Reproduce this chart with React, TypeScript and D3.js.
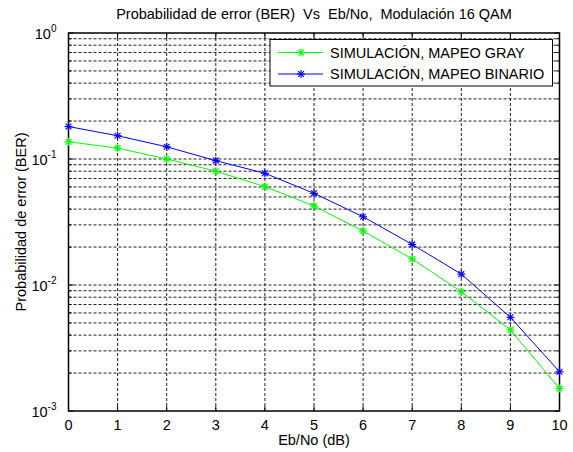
import React from 'react';
import * as d3 from 'd3';

// Eb/No values (dB)
const ebno = [0, 1, 2, 3, 4, 5, 6, 7, 8, 9, 10];
// BER
const berGray = [0.137, 0.122, 0.1, 0.08, 0.0604, 0.0424, 0.0268, 0.0161, 0.00885, 0.0044, 0.00151];
const berBinario = [0.181, 0.153, 0.125, 0.097, 0.077, 0.0534, 0.0348, 0.021, 0.0122, 0.00554, 0.00205];
const yDecades = [1e-3, 1e-2, 1e-1, 1];
const seriesNames = ['SIMULACIÓN, MAPEO GRAY', 'SIMULACIÓN, MAPEO BINARIO'];
const seriesColors = ['#00ff00', '#0000ff'];

const W = 573, H = 452;
const margin = { top: 33, right: 13.5, bottom: 41, left: 68.5 };

function Star({ x, y, color }: { x: number; y: number; color: string }) {
    const r = 4;
    const d = r * 0.72;
    return (
        <g stroke={color} strokeWidth={1.2}>
            <line x1={x - r} y1={y} x2={x + r} y2={y} />
            <line x1={x} y1={y - r} x2={x} y2={y + r} />
            <line x1={x - d} y1={y - d} x2={x + d} y2={y + d} />
            <line x1={x - d} y1={y + d} x2={x + d} y2={y - d} />
        </g>
    );
}

export default function App() {
    const x = d3.scaleLinear().domain([0, 10]).range([margin.left, W - margin.right]);
    const y = d3.scaleLog().domain([1e-3, 1]).range([H - margin.bottom, margin.top]);

    const minor: number[] = [];
    yDecades.slice(0, 3).forEach(dec => {
        for (let k = 2; k <= 9; k++) minor.push(dec * k);
    });

    const line = d3.line<number>()
        .x((_, i) => x(ebno[i]))
        .y(d => y(d));

    const series = [berGray, berBinario];
    const x0 = margin.left, x1 = W - margin.right;
    const y0 = H - margin.bottom, y1 = margin.top;
    const font = 'Liberation Sans, Arial, sans-serif';
    const fs = 14.5;

    return (
        <svg width={W} height={H} style={{ position: 'absolute', left: 0, top: 0, background: '#fff' }}>
            <rect x={0} y={0} width={W} height={H} fill="#fff" />
            {/* grid */}
            <g stroke="#222" strokeWidth={1} strokeDasharray="3,2">
                {ebno.slice(1, -1).map(v => (
                    <line key={'gx' + v} x1={x(v)} x2={x(v)} y1={y0} y2={y1} />
                ))}
                {minor.concat(yDecades.slice(1, 3)).map(v => (
                    <line key={'gy' + v} x1={x0} x2={x1} y1={y(v)} y2={y(v)} />
                ))}
            </g>
            {/* inside ticks */}
            <g stroke="#000" strokeWidth={1}>
                {ebno.map(v => (
                    <g key={'tx' + v}>
                        <line x1={x(v)} x2={x(v)} y1={y0} y2={y0 - 5} />
                        <line x1={x(v)} x2={x(v)} y1={y1} y2={y1 + 5} />
                    </g>
                ))}
                {minor.map(v => (
                    <g key={'ty' + v}>
                        <line x1={x0} x2={x0 + 3} y1={y(v)} y2={y(v)} />
                        <line x1={x1} x2={x1 - 3} y1={y(v)} y2={y(v)} />
                    </g>
                ))}
                {yDecades.map(v => (
                    <g key={'tyd' + v}>
                        <line x1={x0} x2={x0 + 5} y1={y(v)} y2={y(v)} />
                        <line x1={x1} x2={x1 - 5} y1={y(v)} y2={y(v)} />
                    </g>
                ))}
            </g>
            <rect x={x0} y={y1} width={x1 - x0} height={y0 - y1} fill="none" stroke="#000" strokeWidth={1.5} />
            {/* series */}
            {series.map((s, si) => (
                <g key={si}>
                    <path d={line(s) || ''} fill="none" stroke={seriesColors[si]} strokeWidth={1} />
                    {s.map((v, i) => (
                        <Star key={i} x={x(ebno[i])} y={y(v)} color={seriesColors[si]} />
                    ))}
                </g>
            ))}
            {/* x tick labels */}
            <g fontFamily={font} fontSize={fs} fill="#000" textAnchor="middle">
                {ebno.map(v => (
                    <text key={'lx' + v} x={x(v)} y={y0 + 19}>{v}</text>
                ))}
            </g>
            {/* y tick labels */}
            <g fontFamily={font} fill="#000">
                {yDecades.map(v => (
                    <text key={'ly' + v} x={x0 - 12} y={y(v) + 6} fontSize={fs} textAnchor="end">
                        10<tspan fontSize={10} dy={-7}>{Math.round(Math.log10(v))}</tspan>
                    </text>
                ))}
            </g>
            {/* titles */}
            <text x={(x0 + x1) / 2} y={19} textAnchor="middle" fontFamily={font} fontSize={fs} style={{ whiteSpace: 'pre' }}>
                {'Probabilidad de error (BER)  Vs  Eb/No,  Modulación 16 QAM'}
            </text>
            <text x={(x0 + x1) / 2} y={445} textAnchor="middle" fontFamily={font} fontSize={fs}>
                Eb/No (dB)
            </text>
            <text transform={`translate(26, ${(y0 + y1) / 2}) rotate(-90)`} textAnchor="middle" fontFamily={font} fontSize={fs}>
                Probabilidad de error (BER)
            </text>
            {/* legend */}
            <g>
                <rect x={270} y={39.5} width={282.5} height={46.5} fill="#fff" stroke="#000" strokeWidth={1} />
                {seriesNames.map((n, i) => (
                    <g key={n}>
                        <line x1={278} x2={323} y1={52.5 + i * 21.5} y2={52.5 + i * 21.5} stroke={seriesColors[i]} strokeWidth={1} />
                        <Star x={301} y={52.5 + i * 21.5} color={seriesColors[i]} />
                        <text x={330} y={57.5 + i * 21.5} fontFamily={font} fontSize={fs}>{n}</text>
                    </g>
                ))}
            </g>
        </svg>
    );
}
